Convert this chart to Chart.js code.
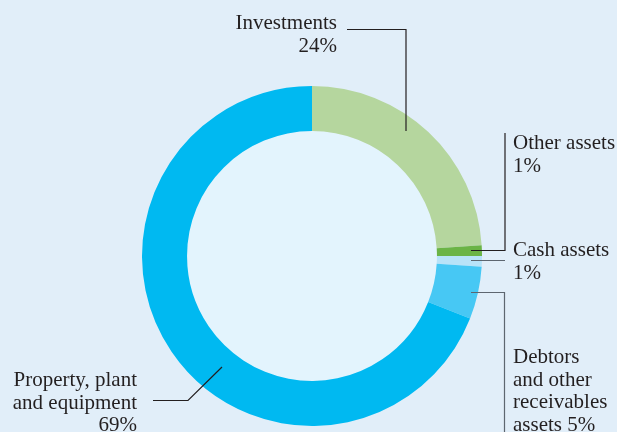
<!DOCTYPE html>
<html>
<head>
<meta charset="utf-8">
<script src="https://cdn.jsdelivr.net/npm/chart.js@4/dist/chart.umd.min.js"></script>
<style>
  html, body { margin: 0; padding: 0; background: #e1eef9; }
  canvas { display: block; }
</style>
</head>
<body>
<canvas id="assetsChart" width="617" height="432"></canvas>
<script>
const categories = ["Investments", "Other assets", "Cash assets", "Debtors and other receivables assets", "Property, plant and equipment"];
const shares = [24, 1, 1, 5, 69];
const colours = ["#b5d69e", "#6bb446", "#b8e3f8", "#47c8f4", "#00b9f1"];

// callout text lines ({v} is replaced by the share) and leader paths
const callouts = [
    { lines: ["Investments", "{v}%"], x: 337, y: 29, align: "right",
      path: [[347, 29.5], [406, 29.5], [406, 131]], stroke: "#231f20" },
    { lines: ["Other assets", "{v}%"], x: 513, y: 149, align: "left",
      path: [[471, 250.5], [505, 250.5], [505, 133]], stroke: "#231f20" },
    { lines: ["Cash assets", "{v}%"], x: 513, y: 256, align: "left",
      path: [[471, 260.5], [505, 260.5]], stroke: "#5d6670" },
    { lines: ["Debtors", "and other", "receivables", "assets {v}%"], x: 513, y: 363, align: "left",
      path: [[471, 292.5], [504.5, 292.5], [504.5, 432]], stroke: "#5d6670" },
    { lines: ["Property, plant", "and equipment", "{v}%"], x: 137, y: 386, align: "right",
      path: [[222, 367], [188, 400.5], [153, 400.5]], stroke: "#231f20" }
];

document.addEventListener("DOMContentLoaded", function () {
    const ctx = document.getElementById("assetsChart").getContext("2d");

    // pale fill inside the ring
    const innerFill = {
        id: "innerFill",
        beforeDatasetsDraw(chart) {
            const arc = chart.getDatasetMeta(0).data[0];
            const c = chart.ctx;
            c.save();
            c.fillStyle = "#e3f4fd";
            c.beginPath();
            c.arc(arc.x, arc.y, arc.innerRadius, 0, Math.PI * 2);
            c.fill();
            c.restore();
        }
    };

    const calloutLabels = {
        id: "calloutLabels",
        afterDatasetsDraw(chart) {
            const c = chart.ctx;
            c.save();
            callouts.forEach(function (co, i) {
                c.strokeStyle = co.stroke;
                c.lineWidth = 1.2;
                c.beginPath();
                co.path.forEach(function (p, j) {
                    if (j === 0) c.moveTo(p[0], p[1]); else c.lineTo(p[0], p[1]);
                });
                c.stroke();

                c.fillStyle = "#231f20";
                c.font = "21px 'Liberation Serif', serif";
                c.textAlign = co.align;
                c.textBaseline = "alphabetic";
                co.lines.forEach(function (line, k) {
                    c.fillText(line.replace("{v}", shares[i]), co.x, co.y + k * 22.5);
                });
            });
            c.restore();
        }
    };

    new Chart(ctx, {
        type: "doughnut",
        data: {
            labels: categories,
            datasets: [{
                data: shares,
                backgroundColor: colours,
                borderWidth: 0,
                hoverOffset: 0
            }]
        },
        options: {
            responsive: false,
            animation: false,
            events: [],
            cutout: "73.5%",
            layout: { padding: { left: 142, right: 135, top: 86, bottom: 6 } },
            plugins: {
                legend: { display: false },
                tooltip: { enabled: false }
            }
        },
        plugins: [innerFill, calloutLabels]
    });
});
</script>
</body>
</html>
